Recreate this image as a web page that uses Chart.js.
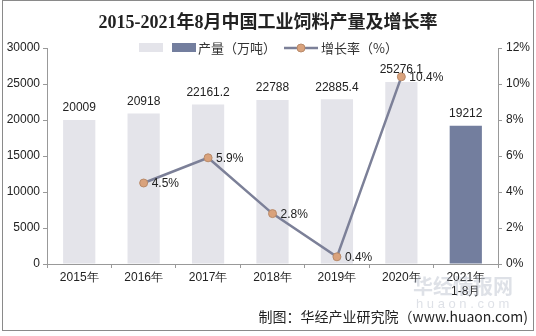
<!DOCTYPE html>
<html>
<head>
<meta charset="utf-8">
<script src="https://cdn.jsdelivr.net/npm/chart.js@4"></script>
<style>
  body { margin: 0; background: #fff; }
  #wrap { position: relative; width: 536px; height: 336px; }
  #frame { position: absolute; left: 2px; top: 0px; width: 530px; height: 329px; border: 1px solid #8a8a8a; pointer-events: none; }
</style>
</head>
<body>
<div id="wrap">
  <canvas id="feedChart" width="536" height="336"></canvas>
  <div id="frame"></div>
</div>
<script>
const years = ["2015年", "2016年", "2017年", "2018年", "2019年", "2020年", ["2021年", "1-8月"]];
const output = [20009, 20918, 22161.2, 22788, 22885.4, 25276.1, 19212];
const outputLabels = ["20009", "20918", "22161.2", "22788", "22885.4", "25276.1", "19212"];
const growth = [null, 4.5, 5.9, 2.8, 0.4, 10.4, null];

const barColors = ["#e4e4ea", "#e4e4ea", "#e4e4ea", "#e4e4ea", "#e4e4ea", "#e4e4ea", "#737e9e"];
const font = "'Liberation Sans', Arial, sans-serif";

// titles, legend, value labels, footer
const decor = {
  id: "decor",
  afterDatasetsDraw(chart) {
    const ctx = chart.ctx;
    ctx.save();
    // title
    ctx.fillStyle = "#222";
    ctx.font = "bold 18px 'Liberation Serif', 'Noto Sans CJK SC', serif";
    ctx.textAlign = "center";
    ctx.textBaseline = "middle";
    ctx.fillText("2015-2021年8月中国工业饲料产量及增长率", 268, 23);

    // legend
    ctx.fillStyle = "#e4e4ea";
    ctx.fillRect(139, 43, 24, 9);
    ctx.fillStyle = "#737e9e";
    ctx.fillRect(172, 43, 24, 9);
    ctx.fillStyle = "#333";
    ctx.font = "13px 'Noto Sans CJK SC', sans-serif";
    ctx.textAlign = "left";
    ctx.fillText("产量（万吨）", 198, 48);
    ctx.strokeStyle = "#7c8098";
    ctx.lineWidth = 2.5;
    ctx.beginPath();
    ctx.moveTo(284, 48);
    ctx.lineTo(318, 48);
    ctx.stroke();
    ctx.beginPath();
    ctx.arc(301, 48, 4, 0, Math.PI * 2);
    ctx.fillStyle = "#d9a27c";
    ctx.fill();
    ctx.lineWidth = 1;
    ctx.strokeStyle = "#b88a6a";
    ctx.stroke();
    ctx.fillStyle = "#333";
    ctx.fillText("增长率（%）", 321, 48);

    // bar value labels
    ctx.font = "12px " + font;
    ctx.fillStyle = "#222";
    ctx.textAlign = "center";
    ctx.textBaseline = "bottom";
    chart.getDatasetMeta(1).data.forEach((bar, i) => {
      ctx.fillText(outputLabels[i], bar.x, bar.y - 6);
    });

    // growth labels
    ctx.textAlign = "left";
    ctx.textBaseline = "middle";
    chart.getDatasetMeta(0).data.forEach((pt, i) => {
      if (growth[i] === null) return;
      ctx.fillText(growth[i].toFixed(1) + "%", pt.x + 8, pt.y + 1);
    });

    // watermark
    ctx.font = "bold 20px 'Noto Sans CJK SC', sans-serif";
    ctx.fillStyle = "rgba(160,170,185,0.35)";
    ctx.fillText("华经情报网", 413, 286);
    ctx.font = "13px " + font;
    ctx.fillText("h u a o n . c o m", 416, 304);

    // footer
    ctx.font = "14px 'Noto Sans CJK SC', sans-serif";
    ctx.fillStyle = "#222";
    ctx.textAlign = "right";
    ctx.fillText("制图：华经产业研究院（www.huaon.com)", 528, 317);
    ctx.restore();
  }
};

new Chart(document.getElementById("feedChart"), {
  data: {
    labels: years,
    datasets: [
      {
        type: "line",
        label: "增长率（%）",
        data: growth,
        yAxisID: "y1",
        borderColor: "#7c8098",
        borderWidth: 2.5,
        pointBackgroundColor: "#d9a27c",
        pointBorderColor: "#b88a6a",
        pointBorderWidth: 1,
        pointRadius: 4,
        tension: 0,
        order: 0,
      },
      {
        type: "bar",
        label: "产量（万吨）",
        data: output,
        yAxisID: "y",
        backgroundColor: barColors,
        categoryPercentage: 1,
        barPercentage: 0.5,
        order: 1,
      },
    ],
  },
  options: {
    responsive: false,
    animation: false,
    layout: { padding: { top: 48, left: 0, right: 0, bottom: 0 } },
    plugins: { legend: { display: false }, title: { display: false }, tooltip: { enabled: false } },
    scales: {
      x: {
        offset: true,
        grid: { display: true, drawOnChartArea: false, offset: true, tickLength: 4, color: "#999" },
        border: { color: "#999" },
        ticks: { color: "#222", font: { size: 12, family: font }, padding: 2, maxRotation: 0 },
        afterFit(s) { s.height = 72; },
      },
      y: {
        position: "left",
        min: 0,
        max: 30000,
        ticks: { stepSize: 5000, color: "#222", font: { size: 12, family: font }, padding: 3, callback: (v) => String(v) },
        grid: { drawOnChartArea: false, tickLength: 4, color: "#999" },
        border: { color: "#999" },
        afterFit(s) { s.width = 47; },
      },
      y1: {
        position: "right",
        min: 0,
        max: 12,
        ticks: { stepSize: 2, color: "#222", font: { size: 12, family: font }, padding: 4, callback: (v) => v + "%" },
        grid: { drawOnChartArea: false, tickLength: 4, color: "#999" },
        border: { color: "#999" },
        afterFit(s) { s.width = 38; },
      },
    },
  },
  plugins: [decor],
});
</script>
</body>
</html>
